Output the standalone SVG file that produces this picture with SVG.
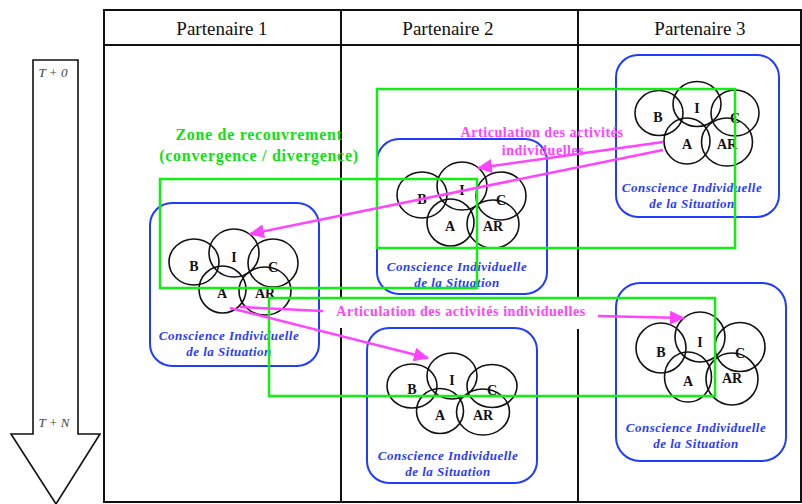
<svg xmlns="http://www.w3.org/2000/svg" width="802" height="504" viewBox="0 0 802 504">
<style>
.grid{fill:none;stroke:#111;stroke-width:2}
.hdr{font-family:"Liberation Serif",serif;font-size:19px;fill:#111;text-anchor:middle}
.time{font-family:"Liberation Serif",serif;font-size:13px;font-style:italic;fill:#444;text-anchor:middle}
.box{fill:none;stroke:#1f3cff;stroke-width:2}
.c{fill:none;stroke:#111;stroke-width:1.6}
.lbl{font-family:"Liberation Serif",serif;font-size:14px;font-weight:bold;fill:#111;text-anchor:middle}
.cis{font-family:"Liberation Serif",serif;font-size:13px;font-weight:bold;font-style:italic;fill:#2a3cff;text-anchor:middle;letter-spacing:0.5px}
.zone{fill:none;stroke:#11ee11;stroke-width:2.5}
.ztxt{font-family:"Liberation Serif",serif;font-size:16px;font-weight:bold;fill:#11e011;text-anchor:middle;letter-spacing:0.7px}
.art{font-family:"Liberation Serif",serif;font-size:14px;font-weight:bold;fill:#ff44ff;text-anchor:middle;letter-spacing:0.55px}
.arr{fill:none;stroke:#ff44ff;stroke-width:2.5}
</style>
<defs>
<marker id="ah" markerUnits="userSpaceOnUse" markerWidth="16" markerHeight="14" refX="14" refY="7" orient="auto">
<path d="M0,0 L15,7 L0,14 z" fill="#ff44ff"/>
</marker>
</defs>
<rect width="802" height="504" fill="#fff"/>

<g id="table">
<rect class="grid" x="104" y="10" width="697" height="492"/>
<line class="grid" x1="104" y1="45" x2="801" y2="45"/>
<line class="grid" x1="341" y1="10" x2="341" y2="297"/>
<line class="grid" x1="341" y1="328" x2="341" y2="502"/>
<line class="grid" x1="578" y1="10" x2="578" y2="297"/>
<line class="grid" x1="578" y1="329" x2="578" y2="502"/>
<text class="hdr" x="222" y="35">Partenaire 1</text>
<text class="hdr" x="448" y="35">Partenaire 2</text>
<text class="hdr" x="700" y="35">Partenaire 3</text>
</g>

<g id="time-arrow">
<polygon points="33,60 78,60 78,434 100,434 56,504 11,434 33,434" fill="#fff" stroke="#111" stroke-width="1.6"/>
<text class="time" x="53" y="77">T + 0</text>
<text class="time" x="54" y="427">T + N</text>
</g>

<g id="p1">
<rect class="box" x="150" y="203" width="169" height="163" rx="22"/>
<g transform="translate(234,253)">
<ellipse class="c" cx="-40" cy="9" rx="25" ry="23"/>
<ellipse class="c" cx="0" cy="0" rx="25" ry="24"/>
<ellipse class="c" cx="39" cy="10" rx="25" ry="24"/>
<ellipse class="c" cx="-11.5" cy="36.5" rx="23.5" ry="23.5"/>
<ellipse class="c" cx="31" cy="38" rx="26" ry="24"/>
<text class="lbl" x="0" y="9">I</text>
<text class="lbl" x="-40" y="18">B</text>
<text class="lbl" x="39" y="19">C</text>
<text class="lbl" x="-12" y="45">A</text>
<text class="lbl" x="31" y="45">AR</text>
</g>
<text class="cis" x="229" y="340">Conscience Individuelle</text>
<text class="cis" x="229" y="356">de la Situation</text>
</g>

<g id="p2a">
<rect class="box" x="377" y="139" width="170" height="155" rx="22"/>
<g transform="translate(462,186)">
<ellipse class="c" cx="-40" cy="9" rx="25" ry="23"/>
<ellipse class="c" cx="0" cy="0" rx="25" ry="24"/>
<ellipse class="c" cx="39" cy="10" rx="25" ry="24"/>
<ellipse class="c" cx="-11.5" cy="36.5" rx="23.5" ry="23.5"/>
<ellipse class="c" cx="31" cy="38" rx="26" ry="24"/>
<text class="lbl" x="0" y="9">I</text>
<text class="lbl" x="-40" y="18">B</text>
<text class="lbl" x="39" y="19">C</text>
<text class="lbl" x="-12" y="45">A</text>
<text class="lbl" x="31" y="45">AR</text>
</g>
<text class="cis" x="457" y="271">Conscience Individuelle</text>
<text class="cis" x="457" y="287">de la Situation</text>
</g>

<g id="p3a">
<rect class="box" x="616" y="55" width="163" height="162" rx="22"/>
<g transform="translate(697,104)">
<ellipse class="c" cx="-38" cy="9" rx="24" ry="22.5"/>
<ellipse class="c" cx="0" cy="0" rx="24" ry="22.5"/>
<ellipse class="c" cx="38" cy="9" rx="24" ry="23"/>
<ellipse class="c" cx="-10" cy="37" rx="23" ry="23"/>
<ellipse class="c" cx="30" cy="38" rx="25.5" ry="24"/>
<text class="lbl" x="0" y="9">I</text>
<text class="lbl" x="-39" y="18">B</text>
<text class="lbl" x="38" y="19">C</text>
<text class="lbl" x="-10" y="45">A</text>
<text class="lbl" x="30" y="45">AR</text>
</g>
<text class="cis" x="692" y="192">Conscience Individuelle</text>
<text class="cis" x="692" y="208">de la Situation</text>
</g>

<g id="p2b">
<rect class="box" x="367" y="328" width="170" height="155" rx="22"/>
<g transform="translate(452,376)">
<ellipse class="c" cx="-40" cy="10" rx="25" ry="22"/>
<ellipse class="c" cx="0" cy="0" rx="25" ry="23"/>
<ellipse class="c" cx="40" cy="10" rx="25" ry="21.5"/>
<ellipse class="c" cx="-12" cy="35" rx="23.5" ry="22.5"/>
<ellipse class="c" cx="31" cy="36" rx="26.5" ry="23"/>
<text class="lbl" x="0" y="9">I</text>
<text class="lbl" x="-40" y="18">B</text>
<text class="lbl" x="40" y="19">C</text>
<text class="lbl" x="-12" y="44">A</text>
<text class="lbl" x="31" y="44">AR</text>
</g>
<text class="cis" x="448" y="460">Conscience Individuelle</text>
<text class="cis" x="448" y="476">de la Situation</text>
</g>

<g id="p3b">
<rect class="box" x="616" y="283" width="170" height="178" rx="24"/>
<g transform="translate(700,337)">
<ellipse class="c" cx="-39" cy="11" rx="25" ry="25"/>
<ellipse class="c" cx="0" cy="0" rx="25" ry="25"/>
<ellipse class="c" cx="40" cy="10" rx="25" ry="24.5"/>
<ellipse class="c" cx="-12" cy="40" rx="23.5" ry="25"/>
<ellipse class="c" cx="32" cy="42" rx="26" ry="26"/>
<text class="lbl" x="0" y="10">I</text>
<text class="lbl" x="-39" y="20">B</text>
<text class="lbl" x="40" y="21">C</text>
<text class="lbl" x="-12" y="49">A</text>
<text class="lbl" x="32" y="46">AR</text>
</g>
<text class="cis" x="696" y="432">Conscience Individuelle</text>
<text class="cis" x="696" y="448">de la Situation</text>
</g>

<g id="zones">
<rect class="zone" x="377" y="89" width="358" height="159"/>
<rect class="zone" x="160" y="179" width="317" height="109"/>
<rect class="zone" x="269" y="298" width="446" height="98"/>
<text class="ztxt" x="259" y="140">Zone de recouvrement</text>
<text class="ztxt" x="259" y="161">(convergence / divergence)</text>
</g>

<g id="connectors">
<line class="arr" x1="663" y1="142" x2="478" y2="168" marker-end="url(#ah)"/>
<line class="arr" x1="663" y1="150" x2="250" y2="234" marker-end="url(#ah)"/>
<line class="arr" x1="230" y1="308" x2="428" y2="358" marker-end="url(#ah)"/>
<line class="arr" x1="240" y1="307" x2="323" y2="311"/>
<line class="arr" x1="598" y1="316" x2="684" y2="318" marker-end="url(#ah)"/>
<text class="art" x="542" y="137">Articulation des activités</text>
<text class="art" x="543" y="155">individuelles</text>
<text class="art" x="461" y="316">Articulation des activités individuelles</text>
</g>
</svg>
